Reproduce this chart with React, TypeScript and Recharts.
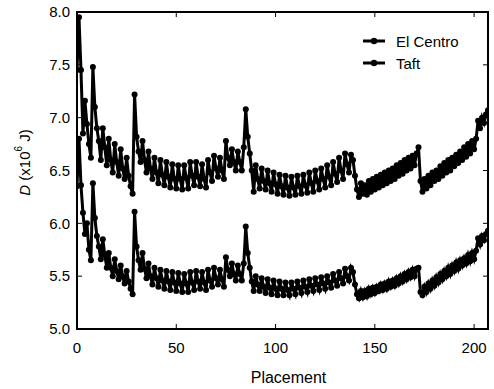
import React from "react";
import { LineChart, Line, XAxis, YAxis, ReferenceArea } from "recharts";

const elCentro = [
  7.45, 7.95, 7.45, 6.85, 7.16, 6.94, 6.75, 6.62, 7.48, 7.1,
  6.9, 6.78, 6.6, 6.9, 6.72, 6.55, 6.8, 6.6, 6.48, 6.75,
  6.58, 6.45, 6.7, 6.52, 6.42, 6.62, 6.45, 6.35, 6.28, 7.22,
  6.82, 6.68, 6.58, 6.78, 6.6, 6.48, 6.68, 6.52, 6.42, 6.62,
  6.48, 6.38, 6.6, 6.46, 6.36, 6.58, 6.44, 6.34, 6.56, 6.42,
  6.33, 6.55, 6.42, 6.32, 6.55, 6.43, 6.33, 6.58, 6.45, 6.36,
  6.58, 6.44, 6.35, 6.56, 6.42, 6.34, 6.6, 6.48, 6.4, 6.64,
  6.52, 6.44, 6.62, 6.5, 6.42, 6.78, 6.62, 6.55, 6.7, 6.58,
  6.5, 6.68, 6.58, 6.5, 6.72, 7.08, 6.82, 6.66, 6.5, 6.3,
  6.55, 6.42, 6.33, 6.52, 6.4, 6.32, 6.5, 6.38, 6.3, 6.48,
  6.37, 6.28, 6.46, 6.35, 6.27, 6.45, 6.34, 6.26, 6.44, 6.34,
  6.27, 6.45, 6.35, 6.28, 6.46, 6.36, 6.29, 6.48, 6.38, 6.3,
  6.5, 6.4, 6.32, 6.52, 6.42, 6.34, 6.55, 6.44, 6.36, 6.58,
  6.47, 6.39, 6.62, 6.5, 6.42, 6.66, 6.56, 6.48, 6.65, 6.6,
  6.45, 6.32, 6.25, 6.38, 6.28, 6.36, 6.27, 6.4, 6.3, 6.42,
  6.32, 6.44, 6.34, 6.46, 6.36, 6.48, 6.38, 6.5, 6.4, 6.52,
  6.42, 6.55, 6.45, 6.57, 6.47, 6.6, 6.5, 6.62, 6.52, 6.64,
  6.55, 6.66, 6.72, 6.4, 6.3, 6.42, 6.33, 6.45, 6.36, 6.48,
  6.4, 6.5, 6.42, 6.54, 6.45, 6.57, 6.48, 6.6, 6.5, 6.62,
  6.54, 6.65, 6.57, 6.68, 6.6, 6.72, 6.63, 6.75, 6.66, 6.78,
  6.7, 6.8, 6.97, 6.9, 7.0, 6.95, 7.03, 7.07,
];

const taft = [
  6.35, 6.8, 6.36, 6.1, 5.9, 6.0, 5.75, 5.65, 6.38, 6.05,
  5.88, 5.78, 5.66, 5.85, 5.7, 5.58, 5.72, 5.58, 5.5, 5.66,
  5.55, 5.47, 5.6, 5.5, 5.43, 5.55, 5.45, 5.38, 5.33, 6.11,
  5.78, 5.65, 5.56, 5.72, 5.57, 5.48, 5.62, 5.5, 5.42, 5.58,
  5.48, 5.4, 5.56, 5.46, 5.38, 5.55, 5.45, 5.37, 5.54, 5.44,
  5.36, 5.53, 5.43, 5.35, 5.52, 5.43, 5.35, 5.54, 5.44, 5.37,
  5.55, 5.45, 5.38, 5.54, 5.44, 5.37, 5.56, 5.46, 5.4, 5.58,
  5.48, 5.42, 5.56, 5.47, 5.4, 5.68, 5.56, 5.5, 5.62, 5.52,
  5.46, 5.6, 5.52, 5.46, 5.62, 5.97, 5.72, 5.58, 5.45, 5.36,
  5.5, 5.42, 5.36, 5.48, 5.4, 5.34, 5.47, 5.39, 5.33, 5.46,
  5.38, 5.32, 5.45, 5.38, 5.32, 5.44, 5.37, 5.32, 5.44, 5.38,
  5.33, 5.45, 5.39, 5.34, 5.46, 5.4, 5.35, 5.47, 5.41, 5.36,
  5.48, 5.42, 5.37, 5.49, 5.43, 5.38, 5.5, 5.44, 5.39, 5.52,
  5.46, 5.41, 5.54, 5.48, 5.43, 5.57, 5.5, 5.46, 5.58, 5.54,
  5.42, 5.33, 5.29, 5.36, 5.3, 5.36, 5.31, 5.38, 5.33, 5.39,
  5.34, 5.4, 5.36, 5.42, 5.37, 5.43, 5.38, 5.45, 5.4, 5.46,
  5.41, 5.48, 5.43, 5.5, 5.45, 5.52, 5.47, 5.54, 5.49, 5.56,
  5.5, 5.57, 5.58, 5.35, 5.32, 5.4, 5.35, 5.43, 5.38, 5.46,
  5.41, 5.49, 5.44, 5.52, 5.47, 5.55, 5.5, 5.58, 5.52, 5.6,
  5.55, 5.63, 5.57, 5.65, 5.6, 5.67, 5.62, 5.7, 5.64, 5.72,
  5.66, 5.74, 5.86, 5.8, 5.88, 5.84, 5.9, 5.93,
];

const xTicks = [0, 50, 100, 150, 200];
const yTicks = [5.0, 5.5, 6.0, 6.5, 7.0, 7.5, 8.0];
const seriesNames = ["El Centro", "Taft"];

const data = elCentro.map((v, i) => ({ placement: i, elCentro: v, taft: taft[i] }));

const FONT = "Liberation Sans, Arial, sans-serif";
const tickStyle = { fontSize: 15, fill: "#000", fontFamily: FONT };
const axisLineStyle = { stroke: "#000", strokeWidth: 2 };
const tickLineStyle = { stroke: "#000", strokeWidth: 1 };
const dotStyle = { r: 3, fill: "#000", stroke: "#000", strokeWidth: 0 };

// legend drawn by hand, line + dot then the name
function LegendBox() {
  return (
    <div
      style={{
        position: "absolute", left: 362, top: 30,
        fontFamily: FONT, fontSize: 15, color: "#000",
      }}
    >
      {seriesNames.map((n) => (
        <div key={n} style={{ display: "flex", alignItems: "center", height: 22 }}>
          <svg width={24} height={10} style={{ marginRight: 10 }}>
            <line x1={1} y1={5} x2={23} y2={5} stroke="#000" strokeWidth={3} />
            <circle cx={12} cy={5} r={3.2} fill="#000" />
          </svg>
          <span>{n}</span>
        </div>
      ))}
    </div>
  );
}

export default function App() {
  return (
    <div style={{ position: "absolute", left: 0, top: 0, width: 494, height: 389, background: "#fff" }}>
      <LineChart
        width={494}
        height={389}
        data={data}
        margin={{ top: 11, right: 5, bottom: 20, left: 20 }}
      >
        <XAxis
          dataKey="placement"
          type="number"
          domain={[0, 207]}
          ticks={xTicks}
          allowDataOverflow
          height={40}
          tick={tickStyle}
          tickSize={-5}
          tickMargin={18}
          axisLine={axisLineStyle}
          tickLine={tickLineStyle}
          label={{ value: "Placement", position: "insideBottom", offset: -14, dx: 6, style: { ...tickStyle, fontSize: 16 } }}
        />
        <XAxis
          xAxisId="top"
          orientation="top"
          dataKey="placement"
          type="number"
          domain={[0, 207]}
          ticks={xTicks}
          allowDataOverflow
          height={1}
          tickFormatter={() => ""}
          tickSize={-5}
          axisLine={axisLineStyle}
          tickLine={tickLineStyle}
        />
        <YAxis
          domain={[5, 8]}
          ticks={yTicks}
          allowDataOverflow
          width={57}
          tick={tickStyle}
          tickSize={-5}
          tickMargin={12}
          tickFormatter={(v: number) => v.toFixed(1)}
          axisLine={axisLineStyle}
          tickLine={tickLineStyle}
          label={({ viewBox }: any) => {
            const cx = 24;
            const cy = viewBox.y + viewBox.height / 2 - 8;
            return (
              <text
                transform={`rotate(-90, ${cx}, ${cy})`}
                x={cx}
                y={cy}
                textAnchor="middle"
                dominantBaseline="central"
                style={{ fontFamily: FONT, fontSize: 15, fill: "#000" }}
              >
                <tspan fontStyle="italic">D</tspan>
                <tspan> (x10</tspan>
                <tspan dy={-6} fontSize={10}>6</tspan>
                <tspan dy={6}> J)</tspan>
              </text>
            );
          }}
        />
        <YAxis
          yAxisId="right"
          orientation="right"
          domain={[5, 8]}
          ticks={yTicks}
          allowDataOverflow
          width={1}
          tickFormatter={() => ""}
          tickSize={-5}
          axisLine={axisLineStyle}
          tickLine={tickLineStyle}
        />
        <ReferenceArea
          x1={0}
          x2={207}
          y1={5}
          y2={8}
          fill="none"
          fillOpacity={0}
          stroke="#000"
          strokeWidth={2}
          ifOverflow="visible"
        />
        <Line
          dataKey="elCentro"
          name="El Centro"
          stroke="#000"
          strokeWidth={3}
          dot={dotStyle}
          isAnimationActive={false}
        />
        <Line
          dataKey="taft"
          name="Taft"
          stroke="#000"
          strokeWidth={3}
          dot={dotStyle}
          isAnimationActive={false}
        />
      </LineChart>
      <LegendBox />
    </div>
  );
}
